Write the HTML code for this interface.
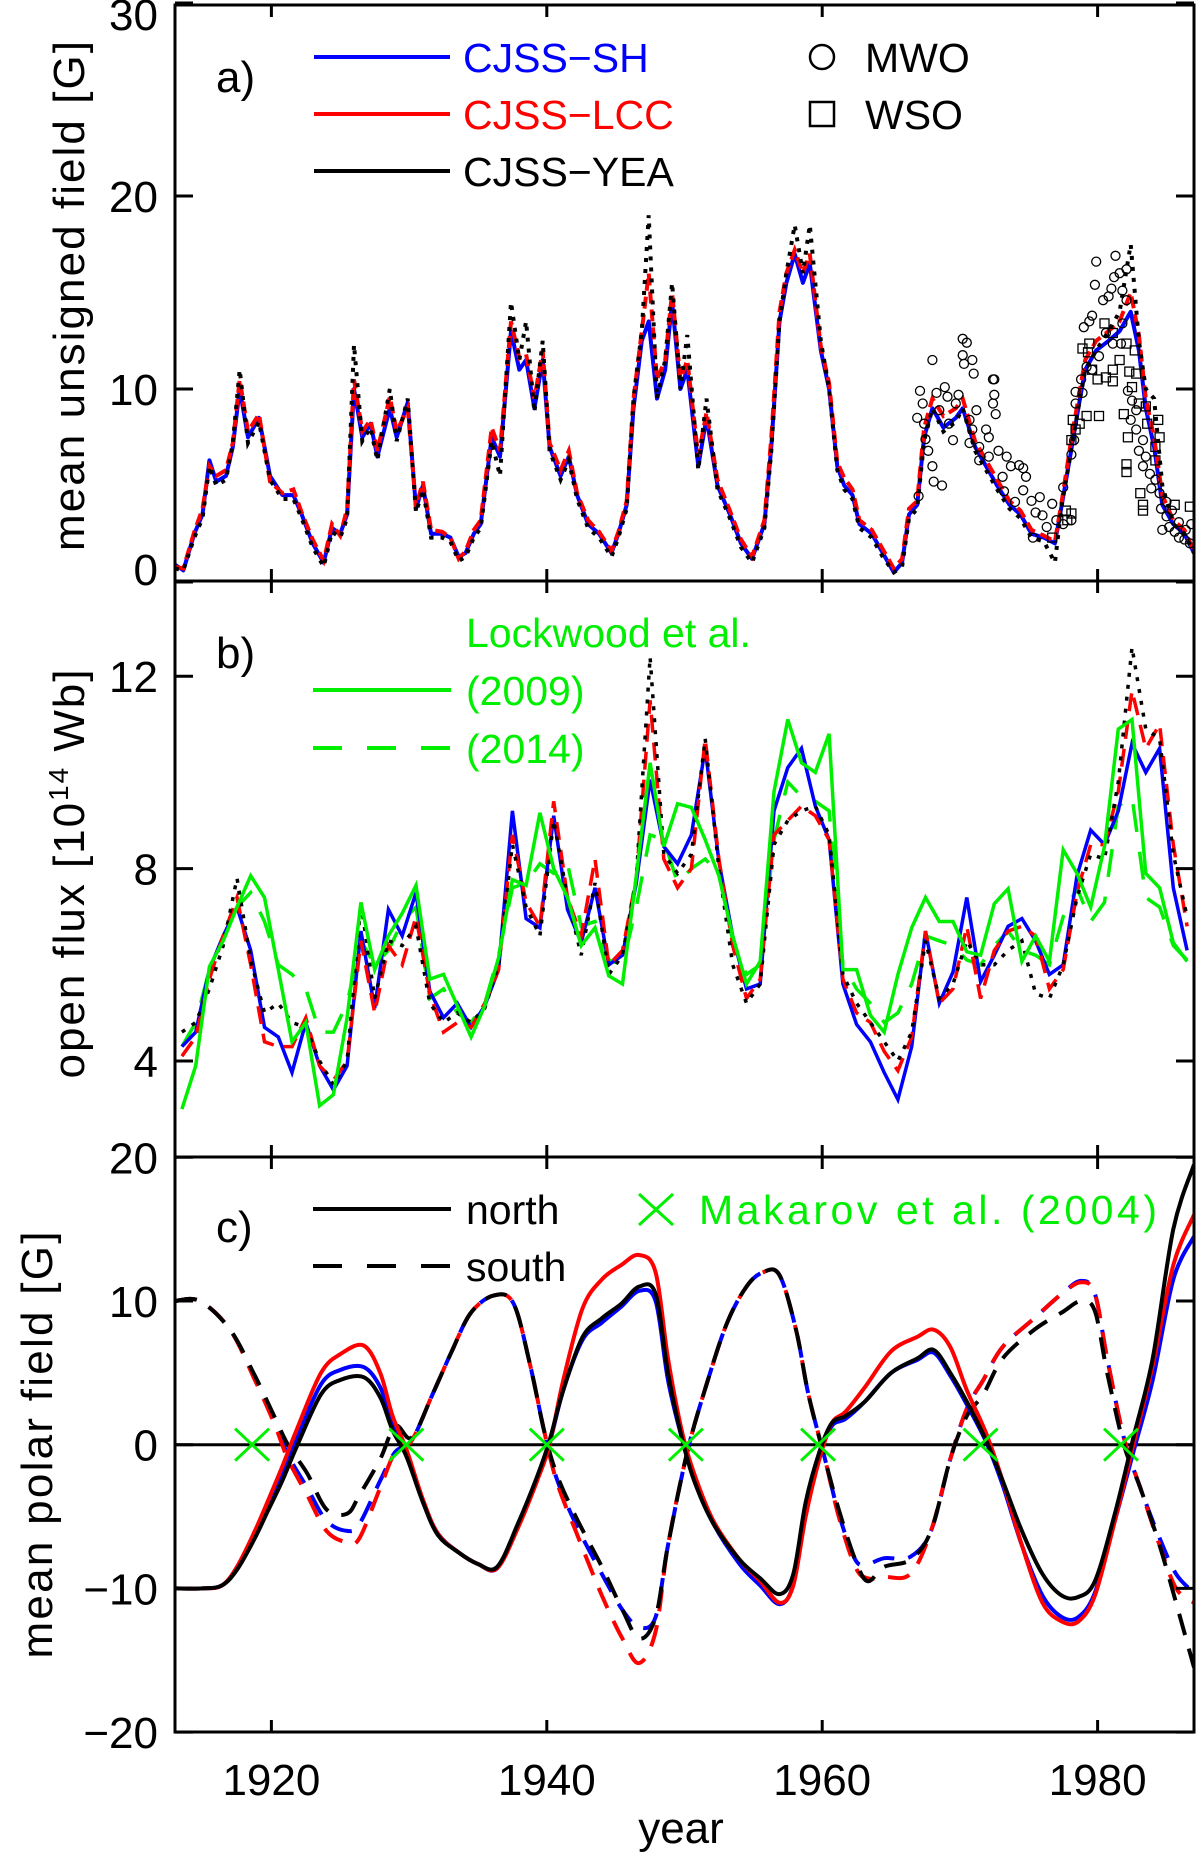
<!DOCTYPE html>
<html><head><meta charset="utf-8"><style>
html,body{margin:0;padding:0;background:#fff;}
svg{display:block;font-family:"Liberation Sans",Arial,sans-serif;}
</style></head><body>
<svg id="fig" width="1200" height="1857" viewBox="0 0 1200 1857" xmlns="http://www.w3.org/2000/svg">
<defs>
<clipPath id="clipA"><rect x="175" y="5" width="1019" height="576"/></clipPath>
<clipPath id="clipB"><rect x="175" y="581" width="1019" height="576"/></clipPath>
<clipPath id="clipC"><rect x="175" y="1157" width="1019" height="575"/></clipPath>
</defs>
<g id="marks"></g>
<g id="axes"></g>
<g id="labels" font-size="44" fill="#000">
<text transform="translate(84,296) rotate(-90)" text-anchor="middle" textLength="510" lengthAdjust="spacing">mean unsigned field [G]</text>
<text transform="translate(84,874) rotate(-90)" text-anchor="middle" textLength="409" lengthAdjust="spacing">open flux [10<tspan font-size="28" dy="-16">14</tspan><tspan dy="16"> Wb]</tspan></text>
<text transform="translate(52,1445) rotate(-90)" text-anchor="middle" textLength="427" lengthAdjust="spacing">mean polar field [G]</text>
<text x="681" y="1843" text-anchor="middle">year</text>
<text x="216" y="92">a)</text>
<text x="216" y="668">b)</text>
<text x="216" y="1242">c)</text>
</g>
<g id="legend-a" font-size="41">
<line x1="314" y1="57" x2="450" y2="57" stroke="#0000ff" stroke-width="4"/>
<text x="463" y="72" fill="#0000ff">CJSS−SH</text>
<line x1="314" y1="114" x2="450" y2="114" stroke="#ff0000" stroke-width="4"/>
<text x="463" y="129" fill="#ff0000">CJSS−LCC</text>
<line x1="314" y1="171" x2="450" y2="171" stroke="#000" stroke-width="4"/>
<text x="463" y="186" fill="#000">CJSS−YEA</text>
<circle cx="822" cy="57" r="12" fill="none" stroke="#000" stroke-width="2.5"/>
<text x="865" y="72">MWO</text>
<rect x="810" y="102" width="24" height="24" fill="none" stroke="#000" stroke-width="2.5"/>
<text x="865" y="129">WSO</text>
</g>
<g id="legend-b" font-size="41" fill="#00ee00">
<text x="466" y="647">Lockwood et al.</text>
<line x1="313" y1="690" x2="451" y2="690" stroke="#00ee00" stroke-width="4"/>
<text x="466" y="705">(2009)</text>
<line x1="313" y1="748" x2="451" y2="748" stroke="#00ee00" stroke-width="4" stroke-dasharray="29,25"/>
<text x="466" y="763">(2014)</text>
</g>
<g id="legend-c" font-size="41">
<line x1="313" y1="1209" x2="451" y2="1209" stroke="#000" stroke-width="4"/>
<text x="466" y="1224">north</text>
<line x1="313" y1="1266" x2="451" y2="1266" stroke="#000" stroke-width="4" stroke-dasharray="29,25"/>
<text x="466" y="1281">south</text>
<path d="M639 1194 L673 1225 M639 1225 L673 1194" stroke="#00ee00" stroke-width="3" fill="none"/>
<text x="699" y="1224" fill="#00ee00" textLength="458" lengthAdjust="spacing">Makarov et al. (2004)</text>
</g>
</svg>
<script>
// ---------- Panel a data ----------
const yearsA = [1913,1913.6,1914.4,1915.0,1915.5,1916.0,1916.7,1917.2,1917.7,1918.3,1919.1,1919.9,1920.8,1921.6,1922.2,1923.0,1923.8,1924.4,1925.0,1925.5,1926.0,1926.6,1927.2,1927.7,1928.6,1929.1,1929.9,1930.5,1931.0,1931.6,1932.4,1933.0,1933.6,1934.1,1934.7,1935.2,1936.0,1936.6,1937.4,1938.0,1938.5,1939.1,1939.7,1940.2,1941.0,1941.6,1942.2,1943.0,1943.8,1944.7,1945.2,1945.8,1946.3,1946.9,1947.4,1948.0,1948.6,1949.1,1949.7,1950.2,1951.0,1951.6,1952.4,1953.3,1954.1,1954.9,1955.8,1956.3,1956.9,1957.4,1958.0,1958.6,1959.1,1959.9,1960.5,1961.1,1961.6,1962.2,1962.7,1963.6,1964.4,1965.2,1965.8,1966.3,1966.9,1967.4,1968.0,1968.8,1969.7,1970.2,1971.1,1971.9,1972.7,1973.6,1974.4,1975.2,1976.1,1976.9,1977.4,1978.0,1978.6,1979.1,1979.9,1980.8,1981.6,1982.4,1983.0,1983.5,1984.1,1984.7,1985.5,1986.3,1987.0];
const shA = [0.9,0.6,2.5,3.5,6.3,5.2,5.5,7.0,10.0,7.5,8.5,5.5,4.5,4.5,3.5,2.0,1.0,2.8,2.5,3.5,10.0,7.5,8.2,6.5,9.0,7.5,9.3,3.8,5.0,2.5,2.5,2.3,1.3,1.5,2.5,3.0,7.5,6.5,13.0,11.0,11.5,9.0,11.5,7.0,5.5,6.5,4.5,3.0,2.5,1.5,2.5,4.0,9.0,12.5,13.5,9.5,11.0,14.5,10.0,11.0,6.0,8.5,5.0,3.5,2.0,1.2,3.0,7.0,13.5,15.5,17.0,15.5,16.5,12.0,10.0,6.0,5.0,4.5,3.0,2.5,1.5,0.5,1.0,3.5,4.0,7.5,9.0,8.0,8.5,9.0,7.0,6.0,5.0,4.0,3.5,2.5,2.3,2.0,4.0,6.5,9.0,11.0,12.0,12.5,13.0,14.0,12.0,9.0,7.0,4.0,3.0,2.5,1.5];
const lccA = [0.8,0.7,2.6,3.8,6.0,5.5,5.8,7.2,10.5,7.8,8.7,5.2,4.6,4.8,3.6,2.2,1.1,3.0,2.4,3.8,10.5,7.8,8.4,6.8,9.6,7.8,9.0,3.9,5.2,2.7,2.6,2.3,1.2,1.6,2.7,3.2,8.0,6.8,13.5,11.6,11.8,9.5,12.0,7.2,5.8,6.8,4.6,3.2,2.6,1.6,2.6,4.2,9.5,13.0,16.0,10.5,11.5,15.0,10.5,11.5,6.5,8.8,5.3,3.7,2.2,1.3,3.2,7.5,14.0,16.0,17.2,16.0,17.0,12.2,10.3,6.2,5.4,4.8,3.2,2.7,1.7,0.7,1.2,3.8,4.2,8.0,9.5,8.6,9.0,9.5,7.3,6.3,5.3,4.2,3.7,2.7,2.4,2.1,4.2,7.0,9.5,11.5,12.5,13.0,13.5,15.0,12.8,9.5,7.5,4.5,3.2,2.7,1.6];
const yeaA = [0.7,0.6,2.3,3.3,6.0,5.0,5.3,7.2,11.0,7.2,8.3,5.3,4.3,4.3,3.3,1.8,0.8,2.6,2.3,3.3,12.3,7.3,8.0,6.3,10.0,7.3,9.5,3.6,4.8,2.3,2.3,2.1,1.1,1.3,2.3,2.8,7.3,5.5,14.5,11.5,13.5,8.8,12.5,6.8,5.3,6.3,4.3,2.8,2.3,1.3,2.3,3.8,9.5,13.0,19.0,9.5,11.5,15.5,10.0,12.8,5.8,9.5,4.8,3.3,1.8,1.0,2.8,6.8,13.5,16.0,18.5,16.0,18.5,12.5,10.0,5.8,4.8,4.3,2.8,2.3,1.3,0.5,0.8,3.3,3.8,7.3,9.0,7.8,8.3,9.0,6.8,5.8,4.8,3.8,3.3,2.3,2.1,1.0,4.0,6.5,9.0,11.0,12.0,13.0,14.0,17.5,12.5,10.0,9.5,5.0,3.0,2.5,1.5];
const mwoYear = [1966.9,1967.0,1967.1,1967.3,1967.4,1967.5,1967.7,1968.0,1968.1,1968.7,1968.0,1968.3,1968.5,1968.9,1969.1,1969.2,1969.5,1969.7,1969.9,1970.2,1970.5,1970.2,1970.3,1970.9,1971.0,1970.7,1970.7,1970.9,1971.2,1971.4,1971.9,1972.1,1972.4,1972.5,1972.5,1972.4,1972.6,1971.4,1972.1,1972.8,1973.4,1973.1,1973.7,1974.3,1974.6,1974.8,1973.2,1974.0,1974.6,1975.2,1975.8,1975.5,1976.0,1976.7,1975.3,1976.3,1977.0,1977.5,1978.1,1977.5,1978.1,1978.3,1978.4,1978.4,1978.8,1979.2,1979.0,1979.4,1979.6,1979.9,1979.8,1980.4,1980.8,1981.0,1981.2,1981.3,1981.6,1982.1,1981.8,1982.1,1981.8,1980.6,1981.1,1981.7,1980.1,1979.6,1978.9,1982.2,1982.5,1982.8,1982.4,1982.8,1983.3,1983.0,1983.5,1983.3,1983.8,1984.2,1983.9,1984.5,1984.6,1985.0,1985.2,1985.6,1985.9,1986.3,1986.7,1985.9,1986.4,1986.8,1984.7,1985.4,1985.0];
const mwoVal = [8.5,4.45,9.9,9.25,8.2,7.4,6.8,6.0,5.2,5.0,11.5,9.8,8.9,10.1,9.6,8.2,7.35,9.25,9.7,12.6,12.4,11.75,11.3,11.5,10.8,8.4,7.2,7.9,8.9,7.0,7.9,7.5,10.5,10.5,9.7,9.25,8.7,6.3,6.5,6.8,6.5,5.45,6.0,6.05,5.9,5.45,4.7,4.15,4.75,4.2,4.4,3.6,3.45,4.05,2.3,2.85,3.2,3.0,3.2,4.9,6.6,7.35,9.25,9.85,10.5,11.15,13.2,13.5,13.8,16.6,15.4,14.6,14.8,15.2,15.8,16.9,16.0,16.2,15.1,14.6,13.4,12.9,12.35,12.35,11.7,11.0,9.8,9.9,9.4,8.9,8.4,7.9,7.35,6.8,6.5,6.0,5.6,5.3,4.85,4.6,3.8,3.4,2.85,2.6,2.3,2.2,2.0,3.1,2.7,3.0,2.7,3.7,4.15];
const wsoYear = [1978.1,1978.2,1978.4,1978.7,1979.2,1978.9,1979.3,1979.6,1980.0,1980.6,1981.1,1980.1,1981.1,1981.6,1982.1,1982.7,1982.3,1982.8,1982.5,1981.9,1982.2,1982.1,1982.1,1983.0,1983.5,1983.6,1984.4,1984.5,1983.1,1983.3,1983.3,1984.2,1984.2,1977.8,1977.7,1978.1,1976.7,1985.6,1986.7,1981.1,1980.5,1979.4];
const wsoVal = [7.35,8.4,7.9,8.2,8.6,12.1,11.9,11.0,10.5,10.6,10.4,8.6,11.0,11.5,12.35,12.0,10.9,10.8,10.1,8.7,7.5,6.1,5.7,9.25,9.1,8.2,8.4,7.5,4.6,4.0,3.7,7.0,6.3,3.2,3.7,3.55,2.3,4.0,3.9,12.9,13.4,12.35];
// ---------- Panel b data ----------
const shB = [4.3,4.6,5.9,6.6,7.2,6.3,4.7,4.5,3.76,4.8,3.9,3.4,3.9,6.7,5.1,7.15,6.6,7.5,5.45,4.9,5.2,4.7,5.15,5.9,9.2,6.96,6.77,9.1,7.15,6.46,7.6,6.0,6.2,7.7,9.85,8.46,8.1,8.7,10.5,8.15,6.6,5.5,5.6,9.2,10.1,10.5,9.3,8.6,5.6,4.76,4.4,3.76,3.2,4.3,6.7,5.2,5.85,7.4,5.65,6.2,6.8,6.96,6.5,5.8,6.0,7.85,8.8,8.5,9.2,10.6,10.0,10.5,7.6,6.3];
const lccB = [4.1,4.5,5.7,6.6,7.4,6.0,4.4,4.3,4.3,4.9,3.9,3.6,4.0,6.5,5.0,6.4,6.0,7.0,5.4,4.6,4.8,4.7,5.2,5.9,8.7,7.3,6.8,9.4,7.4,6.6,8.2,6.0,6.3,7.8,11.5,8.2,7.6,8.0,10.7,8.2,6.4,5.3,5.7,8.7,9.0,9.3,9.1,8.6,5.7,5.0,4.8,4.2,3.8,4.5,6.7,5.2,5.5,6.8,5.3,6.3,6.7,6.8,6.6,5.5,5.9,7.5,8.5,8.5,9.6,11.7,10.5,11.0,8.5,6.8];
const yeaB = [4.6,4.8,5.5,6.4,7.8,6.1,5.0,5.2,4.8,4.7,4.0,3.5,4.0,7.3,5.3,6.5,6.4,6.8,5.2,4.8,5.0,4.8,5.1,6.0,8.5,7.2,6.6,9.0,7.4,6.2,7.7,5.8,6.2,7.8,12.4,8.3,7.9,8.3,10.7,8.0,6.0,5.2,5.6,8.5,9.0,9.2,9.3,8.7,5.8,5.2,4.8,4.4,4.0,4.6,6.5,5.3,5.6,6.5,6.0,6.0,6.3,6.5,5.4,5.3,6.0,7.4,8.3,8.2,9.8,12.6,10.9,10.7,8.3,7.0];
const lock2009 = [3.0,3.9,5.96,6.5,7.2,7.85,7.4,5.9,4.4,4.8,3.07,3.3,4.9,7.3,5.9,6.6,7.07,7.65,5.7,5.8,5.15,4.5,5.15,6.15,7.77,7.65,9.16,8.0,7.4,6.4,6.77,5.77,5.6,7.85,10.2,8.46,9.35,9.27,8.6,7.85,6.6,5.6,6.07,9.6,11.1,10.2,10.0,10.8,5.9,5.9,4.95,4.6,5.8,6.77,7.4,6.9,6.9,6.27,6.2,7.27,7.58,6.07,6.6,6.07,8.39,7.9,7.2,8.46,10.9,11.1,7.9,7.6,6.46,6.07];
const lock2014 = [4.3,4.8,5.9,6.6,7.2,7.5,6.9,6.0,5.8,5.5,4.6,4.6,5.2,6.5,6.0,6.3,6.9,7.2,5.3,5.5,5.0,4.8,5.2,6.2,7.6,7.7,8.1,7.9,8.1,6.8,6.9,6.1,6.0,7.2,8.7,8.6,7.7,8.0,8.2,7.9,6.5,5.8,6.0,8.6,9.8,9.5,9.4,9.2,6.0,5.5,5.2,4.8,5.0,5.6,6.6,6.5,6.4,6.1,6.0,6.4,6.7,6.3,6.2,6.0,7.0,7.6,6.9,7.3,9.3,9.5,7.4,7.2,6.4,6.1];
const yearsB = [];
for (let i = 0; i < shB.length; i++) yearsB.push(1913.5 + i);
// ---------- Panel c data ----------
const yearsN = [1913,1915,1916.4,1917.5,1918.8,1919.8,1920.8,1921.9,1923.6,1925,1926.7,1927.9,1928.8,1929.8,1931,1932.1,1933.6,1935,1936.4,1937.9,1939.3,1940.2,1941.2,1942.6,1944,1945.4,1946.7,1947.9,1948.8,1949.8,1950.7,1952.1,1954,1955.5,1956.9,1957.9,1958.8,1959.8,1960.7,1961.7,1963.1,1965,1966.9,1968.1,1969.3,1970.5,1971.9,1973.1,1974.5,1976,1977.4,1978.6,1979.8,1981.2,1982.6,1984,1985.5,1987];
const northYEA = [-10,-10,-9.8,-8.7,-6.5,-4.5,-2.5,0,3.5,4.5,4.7,3.3,1.0,-0.8,-4,-6.3,-7.5,-8.3,-8.5,-5.5,-2.2,0.3,3.8,7.5,8.8,9.8,11.0,10.5,5,0.5,-2.5,-5.5,-8.0,-9.3,-10.4,-9,-4,-0.5,1.5,2.0,3.0,5.0,6.0,6.6,5.0,3.0,0.3,-2.5,-6,-9,-10.5,-10.6,-9.5,-5,0.5,6,15,19.5];
const northLCC = [-10,-10,-9.8,-8.5,-6.0,-3.8,-1.5,1.2,5.0,6.3,6.9,5.0,2.0,-0.3,-3.8,-6.2,-7.5,-8.3,-8.6,-5.8,-2.5,0,4.5,9.5,11.5,12.5,13.2,12.0,6,1,-2,-5.3,-8.0,-9.5,-11.0,-9.8,-5,-1,1.5,2.3,4.0,6.5,7.5,8.0,6.8,3.8,0.8,-2.5,-7,-11,-12.3,-12.3,-10.5,-5.5,0,5.5,12.5,16.0];
const northSH = [-10,-10,-9.8,-8.6,-6.2,-4.1,-2.0,0.6,4.2,5.2,5.4,4.0,1.5,-0.5,-3.9,-6.2,-7.5,-8.3,-8.6,-5.6,-2.4,0.1,3.8,7.3,8.5,9.6,10.7,10.0,4.5,0.5,-2.3,-5.5,-8.3,-9.8,-11.1,-9.7,-4.5,-0.8,1.3,1.8,3.0,5.0,5.9,6.4,4.8,2.8,0.2,-2.8,-7,-10.5,-12.0,-12.0,-10.3,-5.5,-0.5,4.5,11.5,14.5];
const yearsS = [1913,1914.8,1917,1918.8,1920.2,1921.2,1922.6,1924,1925.5,1926.4,1927.9,1929,1930.2,1931.7,1933.1,1934.5,1936.2,1937.6,1938.8,1939.8,1940.7,1942.1,1944,1945.5,1946.7,1947.9,1948.8,1950.2,1951.7,1953.1,1954.5,1955.7,1956.9,1958.1,1959,1960.2,1961.2,1962.4,1963.3,1964.5,1966.4,1967.9,1969.3,1970.5,1971.7,1973.1,1975.4,1977.4,1978.8,1979.8,1980.7,1981.9,1983.1,1984.5,1985.7,1987];
const southYEA = [10,10,8,4.8,2.0,0,-2,-4.5,-4.8,-3.5,-1,1.3,0.5,3.5,6.5,9.2,10.4,9.8,5.5,1,-2,-5,-8.5,-11.5,-13.5,-12,-7,-0.5,4.5,8.5,11.0,12.0,11.8,8,3.5,-1,-4.5,-8,-9.5,-8.5,-8.0,-6,-1,2.0,3.5,6.0,8.0,9.2,10.0,9.3,5,0,-3,-7,-11,-15.5];
const southLCC = [10,10,8,4.5,1.5,-1,-3.5,-6,-6.8,-6.5,-3,-0.5,0.3,3.5,6.5,9.2,10.4,9.8,5.5,1,-2.5,-6,-10.5,-13.5,-15.2,-13,-7,-0.5,4.5,8.5,11.0,12.0,11.8,8,3.5,-1,-5,-8.5,-9.3,-9.2,-9.0,-6,-1,2.5,4.5,6.8,8.8,10.5,11.3,10.5,6,0.5,-3,-7,-10,-11.0];
const southSH = [10,10,8,4.6,1.7,-0.7,-3,-5.3,-6,-5.5,-2.5,-0.5,0.3,3.5,6.5,9.2,10.4,9.8,5.5,1,-2.3,-5.5,-9,-11.5,-12.7,-12,-7,-0.5,4.5,8.5,11.0,12.0,11.8,8,3.5,-1,-4.8,-8,-8.3,-7.9,-7.8,-6,-1,2.5,4.5,6.8,8.8,10.5,11.4,10.5,6,0.5,-3,-6.5,-9,-10.3];
const makarovYears = [1918.6,1929.8,1940.0,1950.1,1959.7,1971.5,1981.7];
const makarovVals = [0,0,0,0,0,0,0];
// ---------- axes ----------
const xTicks = [1920,1940,1960,1980];
const yTicksA = [0,10,20,30];
const yTicksB = [4,8,12];
const yTicksC = [-20,-10,0,10,20];

const L = 175, R = 1194;
function xs(yr){ return L + (yr - 1913) * (R - L) / 74; }
function ya(v){ return 582 - v * 19.3; }
function yb(v){ return 868.6 - (v - 8) * 48.1; }
function yc(v){ return 1444.7 - v * 14.37; }

const NS = 'http://www.w3.org/2000/svg';
const marks = document.getElementById('marks');
const axes = document.getElementById('axes');
function mk(tag, attrs, parent){
  const e = document.createElementNS(NS, tag);
  for (const k in attrs) e.setAttribute(k, attrs[k]);
  parent.appendChild(e);
  return e;
}
function linePath(xv, yv, fy){
  let d = '';
  for (let i = 0; i < xv.length; i++) d += (i ? 'L' : 'M') + xs(xv[i]).toFixed(1) + ' ' + fy(yv[i]).toFixed(1);
  return d;
}
function smoothPath(xv, yv, fy){
  const p = xv.map((x, i) => [xs(x), fy(yv[i])]);
  let d = 'M' + p[0][0].toFixed(1) + ' ' + p[0][1].toFixed(1);
  for (let i = 0; i < p.length - 1; i++){
    const p0 = p[Math.max(0, i - 1)], p1 = p[i], p2 = p[i + 1], p3 = p[Math.min(p.length - 1, i + 2)];
    const c1x = p1[0] + (p2[0] - p0[0]) / 6, c1y = p1[1] + (p2[1] - p0[1]) / 6;
    const c2x = p2[0] - (p3[0] - p1[0]) / 6, c2y = p2[1] - (p3[1] - p1[1]) / 6;
    d += 'C' + c1x.toFixed(1) + ' ' + c1y.toFixed(1) + ' ' + c2x.toFixed(1) + ' ' + c2y.toFixed(1) + ' ' + p2[0].toFixed(1) + ' ' + p2[1].toFixed(1);
  }
  return d;
}

const gA = mk('g', {'clip-path': 'url(#clipA)'}, marks);


const gB = mk('g', {'clip-path': 'url(#clipB)'}, marks);


const gC = mk('g', {'clip-path': 'url(#clipC)'}, marks);



// Panel a
let el;
el = mk('path', {d: linePath(yearsA, shA, ya), fill: 'none', stroke: '#0000ff', 'stroke-width': 4, 'stroke-linejoin': 'round'}, gA);


el = mk('path', {d: linePath(yearsA, lccA, ya), fill: 'none', stroke: '#ff0000', 'stroke-width': 4, 'stroke-dasharray': '12,6'}, gA);


el = mk('path', {d: linePath(yearsA, yeaA, ya), fill: 'none', stroke: '#000', 'stroke-width': 4, 'stroke-dasharray': '4,7'}, gA);


for (let i = 0; i < mwoYear.length; i++){
  const c = mk('circle', {cx: xs(mwoYear[i]).toFixed(1), cy: ya(mwoVal[i]).toFixed(1), r: 4.5, fill: 'none', stroke: '#000', 'stroke-width': 1.3}, gA);
  
  
}
for (let i = 0; i < wsoYear.length; i++){
  const s = mk('rect', {x: (xs(wsoYear[i]) - 4.5).toFixed(1), y: (ya(wsoVal[i]) - 4.5).toFixed(1), width: 9, height: 9, fill: 'none', stroke: '#000', 'stroke-width': 1.3}, gA);
  
  
}
// Panel b
el = mk('path', {d: linePath(yearsB, lock2014, yb), fill: 'none', stroke: '#00ee00', 'stroke-width': 3.5, 'stroke-dasharray': '28,20'}, gB);


el = mk('path', {d: linePath(yearsB, shB, yb), fill: 'none', stroke: '#0000ff', 'stroke-width': 3.5}, gB);


el = mk('path', {d: linePath(yearsB, lccB, yb), fill: 'none', stroke: '#ff0000', 'stroke-width': 3.5, 'stroke-dasharray': '18,10'}, gB);


el = mk('path', {d: linePath(yearsB, yeaB, yb), fill: 'none', stroke: '#000', 'stroke-width': 3.5, 'stroke-dasharray': '4,8'}, gB);


el = mk('path', {d: linePath(yearsB, lock2009, yb), fill: 'none', stroke: '#00ee00', 'stroke-width': 3.5}, gB);


// Panel c
el = mk('line', {x1: L, x2: R, y1: yc(0), y2: yc(0), stroke: '#000', 'stroke-width': 3}, gC);


const southSets = [[southSH, '#0000ff', 'south-cjss-sh'], [southLCC, '#ff0000', 'south-cjss-lcc'], [southYEA, '#000', 'south-cjss-yea']];
southSets.forEach(s => {
  const p = mk('path', {d: smoothPath(yearsS, s[0], yc), fill: 'none', stroke: s[1], 'stroke-width': 4, 'stroke-dasharray': '22,14'}, gC);
  
  
});
const northSets = [[northSH, '#0000ff', 'north-cjss-sh'], [northLCC, '#ff0000', 'north-cjss-lcc'], [northYEA, '#000', 'north-cjss-yea']];
northSets.forEach(s => {
  const p = mk('path', {d: smoothPath(yearsN, s[0], yc), fill: 'none', stroke: s[1], 'stroke-width': 4}, gC);
  
  
});
for (let i = 0; i < makarovYears.length; i++){
  const cx = xs(makarovYears[i]), cy = yc(makarovVals[i]);
  const p = mk('path', {d: `M${cx-17} ${cy-16}L${cx+17} ${cy+16}M${cx-17} ${cy+16}L${cx+17} ${cy-16}`, stroke: '#00ee00', 'stroke-width': 3, fill: 'none'}, gC);
  
  
}

// Frames, ticks, labels
const panels = [
  {top: 5, bot: 581, fy: ya, ticks: yTicksA, name: 'a'},
  {top: 581, bot: 1157, fy: yb, ticks: yTicksB, name: 'b'},
  {top: 1157, bot: 1732, fy: yc, ticks: yTicksC, name: 'c'}
];
panels.forEach(P => {
  const f = mk('rect', {x: L, y: P.top, width: R - L, height: P.bot - P.top, fill: 'none', stroke: '#000', 'stroke-width': 3}, axes);
  
  
  xTicks.forEach(t => {
    const x = xs(t);
    mk('line', {x1: x, x2: x, y1: P.bot, y2: P.bot - 12, stroke: '#000', 'stroke-width': 3}, axes);
    mk('line', {x1: x, x2: x, y1: P.top, y2: P.top + 12, stroke: '#000', 'stroke-width': 3}, axes);
  });
  P.ticks.forEach(v => {
    const y = P.fy(v);
    mk('line', {x1: L, x2: L + 18, y1: y, y2: y, stroke: '#000', 'stroke-width': 3}, axes);
    mk('line', {x1: R - 18, x2: R, y1: y, y2: y, stroke: '#000', 'stroke-width': 3}, axes);
    let ty = y;
    if (P.name === 'a' && v === 0) ty = 569;
    if (P.name === 'a' && v === 30) ty = 14;
    const t = mk('text', {x: 158, y: ty + 16, 'text-anchor': 'end', 'font-size': 44}, axes);
    
    
    t.textContent = v < 0 ? '\u2212' + Math.abs(v) : String(v);
  });
});
xTicks.forEach(t => {
  const lab = mk('text', {x: xs(t), y: 1795, 'text-anchor': 'middle', 'font-size': 44}, axes);
  
  
  lab.textContent = String(t);
});
</script>
</body></html>
